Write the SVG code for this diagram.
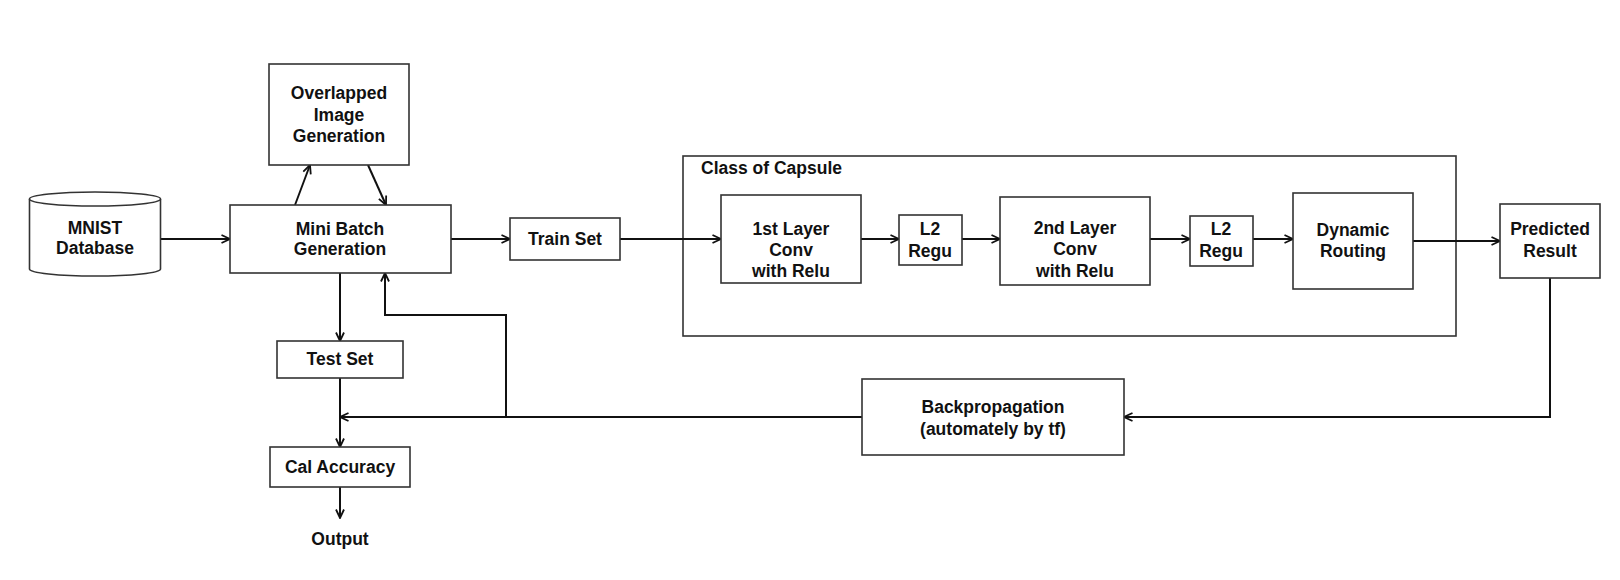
<svg xmlns="http://www.w3.org/2000/svg" width="1620" height="580" viewBox="0 0 1620 580">
<style>
.box{fill:#fff;stroke:#333;stroke-width:1.6}
.t{font-family:"Liberation Sans",Arial,sans-serif;font-weight:bold;font-size:17.5px;fill:#111;text-anchor:middle}
.c{fill:none;stroke:#111;stroke-width:2}
</style>
<defs>
<marker id="arr" viewBox="0 0 10 10" refX="9.5" refY="5" markerWidth="10" markerHeight="10" markerUnits="userSpaceOnUse" orient="auto">
<path d="M1,1 L9.5,5 L1,9" fill="none" stroke="#111" stroke-width="1.8"/>
</marker>
</defs>
<rect width="1620" height="580" fill="#fff"/>

<g id="class-capsule">
<rect class="box" x="683" y="156" width="773" height="180"/>
<text class="t" x="701" y="174" style="text-anchor:start">Class of Capsule</text>
</g>

<g id="connectors">
<path class="c" d="M160,239 L230,239" marker-end="url(#arr)"/>
<path class="c" d="M295,205 L310,165" marker-end="url(#arr)"/>
<path class="c" d="M368,165 L386,205" marker-end="url(#arr)"/>
<path class="c" d="M451,239 L510,239" marker-end="url(#arr)"/>
<path class="c" d="M620,239 L721,239" marker-end="url(#arr)"/>
<path class="c" d="M861,239 L899,239" marker-end="url(#arr)"/>
<path class="c" d="M962,239 L1000,239" marker-end="url(#arr)"/>
<path class="c" d="M1150,239 L1190,239" marker-end="url(#arr)"/>
<path class="c" d="M1253,239 L1293,239" marker-end="url(#arr)"/>
<path class="c" d="M1413,241 L1500,241" marker-end="url(#arr)"/>
<path class="c" d="M1550,278 L1550,417 L1124,417" marker-end="url(#arr)"/>
<path class="c" d="M862,417 L340,417" marker-end="url(#arr)"/>
<path class="c" d="M506,417 L506,315 L385,315 L385,273" marker-end="url(#arr)"/>
<path class="c" d="M340,273 L340,341" marker-end="url(#arr)"/>
<path class="c" d="M340,378 L340,447" marker-end="url(#arr)"/>
<path class="c" d="M340,487 L340,518" marker-end="url(#arr)"/>
</g>

<g id="mnist">
<path class="box" d="M29.5,199 L29.5,269 A65.5,7 0 0 0 160.5,269 L160.5,199"/>
<ellipse class="box" cx="95" cy="199" rx="65.5" ry="7"/>
<text class="t" x="95" y="234">MNIST</text>
<text class="t" x="95" y="254">Database</text>
</g>

<g id="overlapped">
<rect class="box" x="269" y="64" width="140" height="101"/>
<text class="t" x="339" y="99">Overlapped</text>
<text class="t" x="339" y="121">Image</text>
<text class="t" x="339" y="142">Generation</text>
</g>

<g id="mini-batch">
<rect class="box" x="230" y="205" width="221" height="68"/>
<text class="t" x="340" y="235">Mini Batch</text>
<text class="t" x="340" y="255">Generation</text>
</g>

<g id="train-set">
<rect class="box" x="510" y="218" width="110" height="42"/>
<text class="t" x="565" y="245">Train Set</text>
</g>

<g id="layer1">
<rect class="box" x="721" y="195" width="140" height="88"/>
<text class="t" x="791" y="235">1st Layer</text>
<text class="t" x="791" y="256">Conv</text>
<text class="t" x="791" y="277">with Relu</text>
</g>

<g id="l2-a">
<rect class="box" x="899" y="215" width="63" height="50"/>
<text class="t" x="930" y="235">L2</text>
<text class="t" x="930" y="257">Regu</text>
</g>

<g id="layer2">
<rect class="box" x="1000" y="197" width="150" height="88"/>
<text class="t" x="1075" y="234">2nd Layer</text>
<text class="t" x="1075" y="255">Conv</text>
<text class="t" x="1075" y="277">with Relu</text>
</g>

<g id="l2-b">
<rect class="box" x="1190" y="216" width="63" height="50"/>
<text class="t" x="1221" y="235">L2</text>
<text class="t" x="1221" y="257">Regu</text>
</g>

<g id="dynamic-routing">
<rect class="box" x="1293" y="193" width="120" height="96"/>
<text class="t" x="1353" y="236">Dynamic</text>
<text class="t" x="1353" y="257">Routing</text>
</g>

<g id="predicted">
<rect class="box" x="1500" y="204" width="100" height="74"/>
<text class="t" x="1550" y="235">Predicted</text>
<text class="t" x="1550" y="257">Result</text>
</g>

<g id="backprop">
<rect class="box" x="862" y="379" width="262" height="76"/>
<text class="t" x="993" y="413">Backpropagation</text>
<text class="t" x="993" y="435">(automately by tf)</text>
</g>

<g id="test-set">
<rect class="box" x="277" y="341" width="126" height="37"/>
<text class="t" x="340" y="365">Test Set</text>
</g>

<g id="cal-accuracy">
<rect class="box" x="270" y="447" width="140" height="40"/>
<text class="t" x="340" y="473">Cal Accuracy</text>
</g>

<g id="output">
<text class="t" x="340" y="545">Output</text>
</g>
</svg>
